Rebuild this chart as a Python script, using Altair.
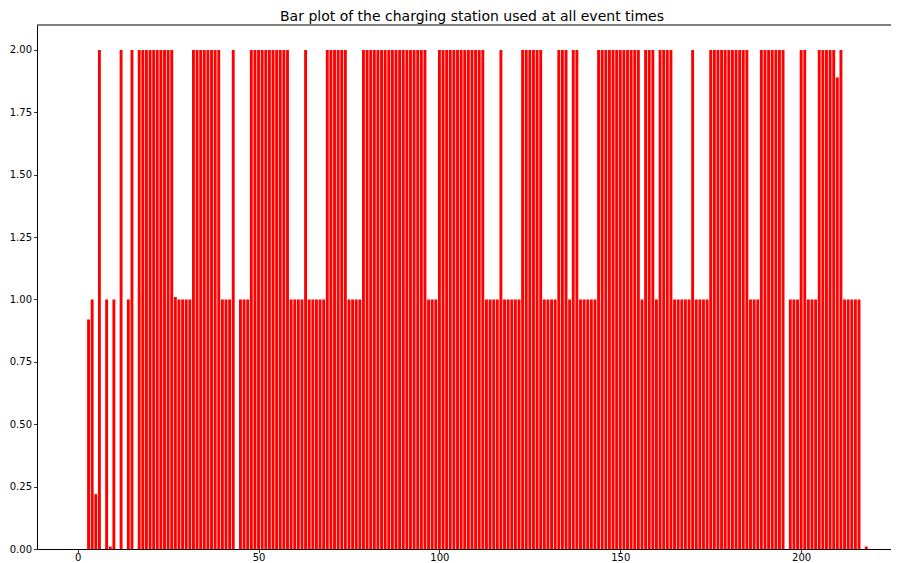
import altair as alt
import pandas as pd

# Bar heights (index 0..218)
values = [
    0, 0, 0, 0.92, 1, 0.22, 2, 0, 1, 0.01,
    1, 0, 2, 0, 1, 2, 0, 2, 2, 2,
    2, 2, 2, 2, 2, 2, 2, 1.01, 1, 1,
    1, 1, 2, 2, 2, 2, 2, 2, 2, 2,
    1, 1, 1, 2, 0, 1, 1, 1, 2, 2,
    2, 2, 2, 2, 2, 2, 2, 2, 2, 1,
    1, 1, 1, 2, 1, 1, 1, 1, 1, 2,
    2, 2, 2, 2, 2, 1, 1, 1, 1, 2,
    2, 2, 2, 2, 2, 2, 2, 2, 2, 2,
    2, 2, 2, 2, 2, 2, 2, 1, 1, 1,
    2, 2, 2, 2, 2, 2, 2, 2, 2, 2,
    2, 2, 2, 1, 1, 1, 1, 2, 1, 1,
    1, 1, 1, 2, 2, 2, 2, 2, 2, 1,
    1, 1, 1, 2, 2, 2, 1, 2, 2, 1,
    1, 1, 1, 1, 2, 2, 2, 2, 2, 2,
    2, 2, 2, 2, 2, 2, 1, 2, 2, 2,
    1, 2, 2, 2, 2, 1, 1, 1, 1, 1,
    2, 1, 1, 1, 1, 2, 2, 2, 2, 2,
    2, 2, 2, 2, 2, 2, 1, 1, 1, 2,
    2, 2, 2, 2, 2, 2, 0, 1, 1, 1,
    2, 2, 1, 1, 1, 2, 2, 2, 2, 2,
    1.89, 2, 1, 1, 1, 1, 1, 0, 0.01,
]
event_index = list(range(len(values)))

x_ticks = [0, 50, 100, 150, 200]
y_ticks = [0, 0.25, 0.5, 0.75, 1.0, 1.25, 1.5, 1.75, 2.0]
title_text = "Bar plot of the charging station used at all event times"

df = pd.DataFrame({"event": event_index, "station": values})

W, H = 854, 524
FONT = "DejaVu Sans"

x_scale = alt.Scale(domain=[-11.25, 224.84], nice=False, zero=False)
y_scale = alt.Scale(domain=[0, 2.1], nice=False)

bars = (
    alt.Chart(df)
    .transform_filter("datum.station > 0")
    .transform_calculate(x0="datum.event - 0.4", x1="datum.event + 0.4")
    .mark_bar(color="#ff0000", clip=True)
    .encode(
        x=alt.X(
            "x0:Q",
            scale=x_scale,
            axis=alt.Axis(values=x_ticks, format="d", title=None, labelPadding=0),
        ),
        x2="x1:Q",
        y=alt.Y(
            "station:Q",
            scale=y_scale,
            axis=alt.Axis(values=y_ticks, format=".2f", title=None, labelPadding=2),
        ),
        y2=alt.datum(0),
    )
)

top_spine = (
    alt.Chart(df.head(1))
    .mark_rule(color="black", strokeWidth=1)
    .encode(x=alt.value(0), x2=alt.value(W), y=alt.value(0))
)

chart = (
    alt.layer(bars, top_spine)
    .properties(
        width=W,
        height=H,
        title=alt.TitleParams(
            title_text,
            font=FONT,
            fontSize=14,
            fontWeight="normal",
            color="black",
            anchor="middle",
            baseline="alphabetic",
            offset=4,
            dx=8,
            dy=14,
        ),
        autosize=alt.AutoSizeParams(type="none"),
        padding={"left": 29, "top": 17, "right": 0, "bottom": 14},
    )
    .configure_view(stroke=None)
    .configure_axis(
        grid=False,
        domainColor="black",
        domainWidth=1,
        tickColor="black",
        tickWidth=0.8,
        tickSize=3.5,
        labelFont=FONT,
        labelFontSize=10,
        labelColor="black",
    )
)

chart.save("out.html", embed_options={"renderer": "svg", "actions": False})
